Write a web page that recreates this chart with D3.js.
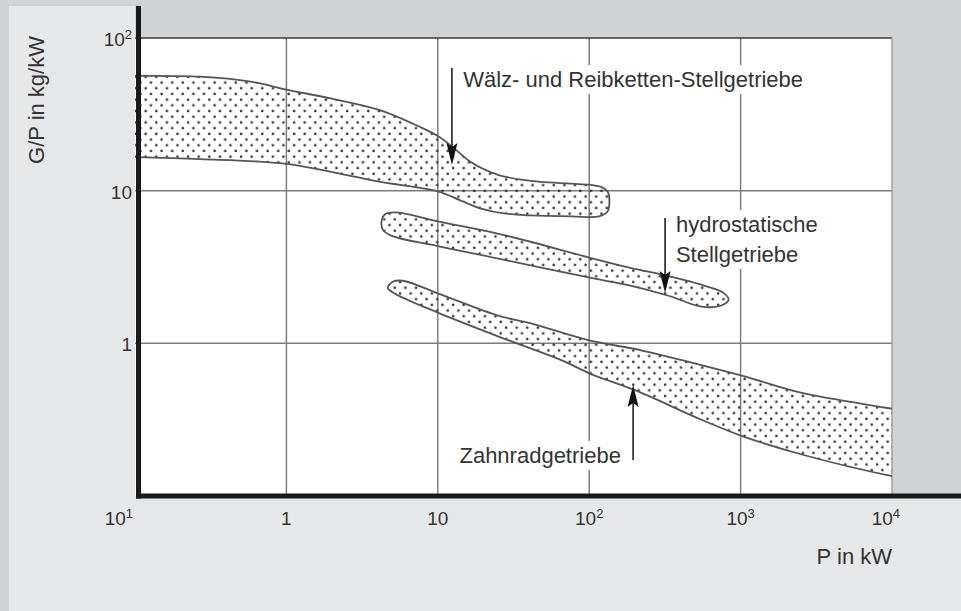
<!DOCTYPE html>
<meta charset="utf-8">
<style>
body { margin: 0; }
svg { display: block; font-family: "Liberation Sans", Arial, sans-serif; }
.grid { stroke: #7d7d7d; stroke-width: 1.5; }
.band { fill: url(#dots); stroke: #555; stroke-width: 1.8; }
.lbl { font-size: 22px; fill: #333; }
.tick { font-size: 19px; fill: #333; }
.arrow { stroke: #111; stroke-width: 1.5; }
</style>
<svg width="961" height="611"></svg>
<script src="https://d3js.org/d3.v7.min.js"></script>
<script>
// axis ticks: [base, exponent]
var xTicks = [0.1, 1, 10, 100, 1000, 10000];
var xTickLabels = [["10", "1"], ["1", ""], ["10", ""], ["10", "2"], ["10", "3"], ["10", "4"]];
var yTicks = [1, 10, 100];
var yTickLabels = [["1", ""], ["10", ""], ["10", "2"]];

// band outlines, [P in kW, G/P in kg/kW], clockwise
var waelzBand = [
  [0.07, 57], [0.1, 56.6], [0.27, 55.8], [0.58, 51.8], [1.0, 45.9], [1.96, 40.2],
  [4.19, 33.6], [7.72, 26.0], [10.3, 22.4], [13.2, 18.5], [16.5, 15.4], [25, 12.7],
  [41, 11.6], [103, 10.9], [120, 10.6], [132, 9.9], [136, 8.5], [132, 7.3],
  [116, 6.78], [76, 6.78], [41, 6.88], [27.4, 7.09], [19.3, 7.64], [14.2, 8.61],
  [10, 9.9], [4.19, 11.4], [2.28, 12.9], [1.0, 15.0], [0.27, 16.1], [0.1, 16.6], [0.07, 16.7]
];
var hydroBand = [
  [4.46, 6.99], [5.27, 7.2], [10, 6.29], [26.1, 5.18], [103, 3.62], [190, 3.11],
  [334, 2.76], [643, 2.31], [772, 2.14], [833, 1.93], [748, 1.77], [551, 1.74],
  [334, 2.05], [190, 2.38], [103, 2.68], [26.1, 3.56], [10, 4.33], [4.88, 5.10],
  [4.32, 5.58], [4.26, 6.39]
];
var zahnradBand = [
  [5.04, 2.53], [5.87, 2.57], [10.2, 2.11], [25, 1.52], [41.3, 1.35], [98.5, 1.05],
  [221, 0.90], [551, 0.72], [1047, 0.61], [2535, 0.473], [10000, 0.373], [15800, 0.343],
  [15800, 0.125], [10000, 0.135], [2535, 0.187], [1047, 0.245], [551, 0.316],
  [199, 0.495], [103, 0.629], [65.3, 0.776], [29.1, 1.05], [10, 1.59], [5.11, 2.14], [4.67, 2.31]
];

// annotations: arrow tip and tail (data units), label anchor (data units)
var annotations = [
  {lines: ["Wälz- und Reibketten-Stellgetriebe"], tip: [12.4, 14.7], tail: 63.6, at: [14.7, 47.7], anchor: "start"},
  {lines: ["hydrostatische", "Stellgetriebe"], tip: [317, 2.14], tail: 6.62, at: [374, 5.36], anchor: "start"},
  {lines: ["Zahnradgetriebe"], tip: [195, 0.533], tail: 0.172, at: [162, 0.1645], anchor: "end"}
];

var svg = d3.select("svg"),
    W = +svg.attr("width"),
    H = +svg.attr("height");

var x = d3.scaleLog().domain([0.1, 1e4]).range([135, 892]),
    y = d3.scaleLog().domain([0.1, 100]).range([496, 38]);

var defs = svg.append("defs");
var pat = defs.append("pattern")
    .attr("id", "dots")
    .attr("patternUnits", "userSpaceOnUse")
    .attr("width", 10.6).attr("height", 11.4);
pat.append("circle").attr("cx", 2.6).attr("cy", 2.8).attr("r", 1.3).attr("fill", "#333");
pat.append("circle").attr("cx", 7.9).attr("cy", 8.5).attr("r", 1.3).attr("fill", "#333");

defs.append("clipPath").attr("id", "plot")
  .append("rect")
    .attr("x", x(0.1)).attr("y", y(100))
    .attr("width", x(1e4) - x(0.1)).attr("height", y(0.1) - y(100));

// backgrounds
svg.append("rect").attr("width", W).attr("height", H).attr("fill", "#d1d2d4");
svg.append("rect").attr("x", 9).attr("y", 6).attr("width", W - 9).attr("height", H - 6).attr("fill", "#e6e7e8");
svg.append("rect").attr("x", x(0.1)).attr("y", 0).attr("width", W - x(0.1)).attr("height", y(0.1)).attr("fill", "#d1d2d4");
svg.append("rect")
    .attr("x", x(0.1)).attr("y", y(100))
    .attr("width", x(1e4) - x(0.1)).attr("height", y(0.1) - y(100))
    .attr("fill", "#fff");

// grid
var g = svg.append("g");
g.selectAll(".vx").data([1, 10, 100, 1000]).enter().append("line")
    .attr("class", "grid")
    .attr("x1", function(d) { return x(d); }).attr("x2", function(d) { return x(d); })
    .attr("y1", y(100)).attr("y2", y(0.1));
g.selectAll(".hy").data([1, 10]).enter().append("line")
    .attr("class", "grid")
    .attr("y1", function(d) { return y(d); }).attr("y2", function(d) { return y(d); })
    .attr("x1", x(0.1)).attr("x2", x(1e4));
g.append("line")
    .attr("x1", x(0.1)).attr("x2", x(1e4)).attr("y1", y(100)).attr("y2", y(100))
    .attr("stroke", "#3a3a3a").attr("stroke-width", 1.6);
g.append("line")
    .attr("x1", x(1e4)).attr("x2", x(1e4)).attr("y1", y(100)).attr("y2", y(0.1))
    .attr("stroke", "#a0a0a0").attr("stroke-width", 1.5);

// bands
var line = d3.line()
    .x(function(d) { return x(d[0]); })
    .y(function(d) { return y(d[1]); })
    .curve(d3.curveCatmullRomClosed.alpha(0.5));

svg.append("g").attr("clip-path", "url(#plot)")
  .selectAll("path")
  .data([waelzBand, hydroBand, zahnradBand])
  .enter().append("path")
    .attr("class", "band")
    .attr("d", line);

// annotations
annotations.forEach(function(a) {
  var tx = x(a.tip[0]), ty = y(a.tip[1]), ly = y(a.tail);
  var dir = ly < ty ? 1 : -1; // 1: arrow points down
  svg.append("line").attr("class", "arrow")
      .attr("x1", tx).attr("x2", tx).attr("y1", ly).attr("y2", ty - dir * 14);
  svg.append("path")
      .attr("fill", "#111")
      .attr("d", "M" + tx + "," + ty +
        "L" + (tx - 5.5) + "," + (ty - dir * 22) +
        "L" + tx + "," + (ty - dir * 18) +
        "L" + (tx + 5.5) + "," + (ty - dir * 22) + "Z");

  var lg = svg.append("g");
  var t = lg.append("text").attr("class", "lbl")
      .attr("text-anchor", a.anchor)
      .attr("x", x(a.at[0])).attr("y", y(a.at[1]));
  a.lines.forEach(function(s, i) {
    t.append("tspan").attr("x", x(a.at[0])).attr("dy", i ? 30 : 0).text(s);
  });
  var bb = t.node().getBBox();
  lg.insert("rect", "text")
      .attr("x", bb.x - 3).attr("y", bb.y - 2)
      .attr("width", bb.width + 6).attr("height", bb.height + 4)
      .attr("fill", "#fff");
});

// axis lines
svg.append("line")
    .attr("x1", 138.5).attr("x2", 138.5).attr("y1", 6).attr("y2", y(0.1) + 2.5)
    .attr("stroke", "#1a1a1a").attr("stroke-width", 5);
svg.append("line")
    .attr("x1", 136).attr("x2", W).attr("y1", y(0.1)).attr("y2", y(0.1))
    .attr("stroke", "#1a1a1a").attr("stroke-width", 5);

// tick labels
function powLabel(sel, lab) {
  sel.append("tspan").text(lab[0]);
  if (lab[1]) sel.append("tspan").attr("dy", -7).attr("font-size", 13).text(lab[1]);
}
xTicks.forEach(function(v, i) {
  var t = svg.append("text").attr("class", "tick")
      .attr("y", 525);
  if (i === 0) t.attr("x", x(v) - 2).attr("text-anchor", "end");
  else if (i === xTicks.length - 1) t.attr("x", x(v) + 8).attr("text-anchor", "end");
  else t.attr("x", x(v)).attr("text-anchor", "middle");
  powLabel(t, xTickLabels[i]);
});
yTicks.forEach(function(v, i) {
  var t = svg.append("text").attr("class", "tick")
      .attr("x", 132).attr("y", y(v) + 8)
      .attr("text-anchor", "end");
  powLabel(t, yTickLabels[i]);
});

// axis titles
svg.append("text").attr("class", "lbl")
    .attr("x", x(1e4)).attr("y", 564)
    .attr("text-anchor", "end")
    .text("P in kW");
svg.append("text").attr("class", "lbl")
    .attr("transform", "translate(44,100) rotate(-90)")
    .attr("text-anchor", "middle")
    .text("G/P in kg/kW");
</script>
